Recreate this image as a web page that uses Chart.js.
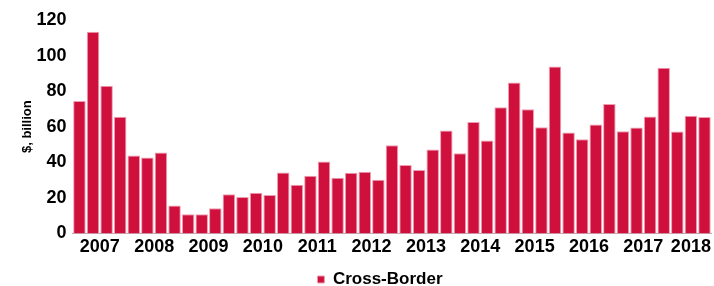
<!DOCTYPE html>
<html>
<head>
<meta charset="utf-8">
<title>Cross-Border</title>
<script src="https://cdn.jsdelivr.net/npm/chart.js@4.4.1/dist/chart.umd.min.js"></script>
<style>
  html, body { margin: 0; padding: 0; background: #fff; }
  #wrap { width: 714px; height: 286px; position: relative; }
</style>
</head>
<body>
<div id="wrap"><canvas id="dealsChart"></canvas></div>
<script>
// years shown on the axis and how many quarters each one has in the data
const years = ['2007', '2008', '2009', '2010', '2011', '2012', '2013', '2014', '2015', '2016', '2017', '2018'];
const quartersPerYear = [4, 4, 4, 4, 4, 4, 4, 4, 4, 4, 4, 3];

// quarterly cross-border value, $ billion
const crossBorder = [
  74.5, 113.4, 83, 65.6,
  43.8, 42.7, 45.5, 15.7,
  10.8, 10.8, 14.2, 22,
  20.5, 22.8, 21.6, 34.3,
  27.3, 32.4, 40.4, 31.3,
  34.1, 34.7, 30.1, 49.5,
  38.5, 35.7, 47.2, 57.8,
  45.1, 62.7, 52.2, 70.9,
  84.8, 69.8, 59.7, 93.9,
  56.7, 52.9, 61.3, 72.8,
  57.5, 59.6, 65.8, 93.1,
  57.3, 66.2, 65.4
];

const yTicks = [0, 20, 40, 60, 80, 100, 120];

// quarter categories, e.g. "2007 Q1"
const categories = [];
const yearCentres = [];
years.forEach((y, i) => {
  const first = categories.length;
  for (let q = 1; q <= quartersPerYear[i]; q++) categories.push(y + ' Q' + q);
  yearCentres.push((first + categories.length - 1) / 2);
});

const font = "'Liberation Sans', Arial, sans-serif";
const crimson = '#d0103c';

// nudge the legend a bit left of the plot centre, like the original
const legendShift = {
  id: 'legendShift',
  afterLayout(chart, args, opts) {
    const lg = chart.legend;
    if (!lg) return;
    lg.left += opts.dx || 0;
    lg.right += opts.dx || 0;
  }
};

const ctx = document.getElementById('dealsChart').getContext('2d');
new Chart(ctx, {
  type: 'bar',
  data: {
    labels: categories,
    datasets: [{
      label: 'Cross-Border',
      data: crossBorder,
      backgroundColor: crimson,
      borderColor: '#ee9db2',
      borderWidth: 1,
      barPercentage: 0.92,
      categoryPercentage: 1
    }]
  },
  plugins: [legendShift],
  options: {
    responsive: true,
    maintainAspectRatio: false,
    animation: false,
    layout: { padding: { left: 10, right: 1, top: 20, bottom: -12 } },
    plugins: {
      legendShift: { dx: -12 },
      legend: {
        position: 'bottom',
        fullSize: false,
        labels: {
          boxWidth: 7,
          boxHeight: 7,
          padding: 10,
          color: '#000',
          font: { family: font, size: 17, weight: 'bold' }
        }
      },
      tooltip: { enabled: false }
    },
    scales: {
      x: {
        display: false,
        grid: { display: false }
      },
      years: {
        type: 'linear',
        position: 'bottom',
        bounds: 'data',
        offset: false,
        min: -0.5,
        max: categories.length - 0.5,
        grid: { display: false, drawTicks: false, offset: false },
        border: { display: true, color: '#c9a7b0', width: 1 },
        afterBuildTicks: axis => {
          axis.ticks = yearCentres.map(v => ({ value: v }));
        },
        ticks: {
          autoSkip: false,
          maxRotation: 0,
          padding: 3,
          color: '#000',
          font: { family: font, size: 18, weight: 'bold' },
          callback: (value, index) => years[index]
        }
      },
      y: {
        min: 0,
        max: 120,
        afterBuildTicks: axis => {
          axis.ticks = yTicks.map(v => ({ value: v }));
        },
        grid: { display: false, drawTicks: false },
        border: { display: false },
        ticks: {
          padding: 6,
          color: '#000',
          font: { family: font, size: 18, weight: 'bold' }
        },
        title: {
          display: true,
          text: '$, billion',
          color: '#000',
          padding: { top: 10, bottom: -5 },
          font: { family: font, size: 13, weight: 'bold' }
        }
      }
    }
  }
});
</script>
</body>
</html>
